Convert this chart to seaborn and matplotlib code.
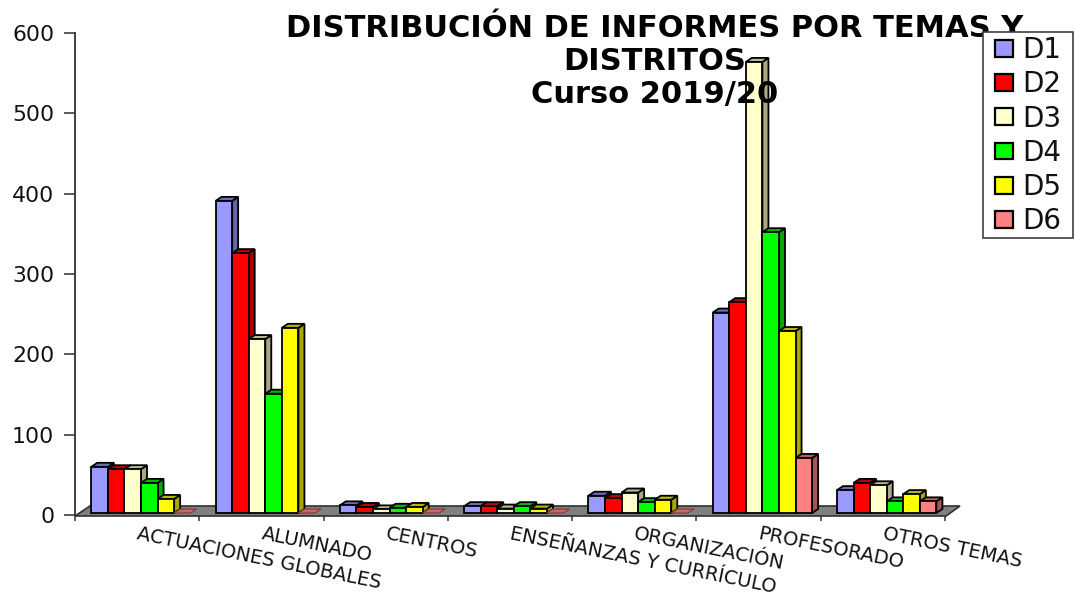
import matplotlib
matplotlib.use("Agg")
import matplotlib.pyplot as plt
import matplotlib.colors as mcolors
from matplotlib.patches import Polygon, Rectangle
import pandas as pd
import seaborn as sns

categories = ["ACTUACIONES GLOBALES", "ALUMNADO", "CENTROS",
              "ENSEÑANZAS Y CURRÍCULO", "ORGANIZACIÓN", "PROFESORADO", "OTROS TEMAS"]
d1 = [60, 391, 12, 11, 24, 252, 31]
d2 = [57, 326, 10, 11, 21, 265, 40]
d3 = [57, 219, 7, 8, 28, 564, 37]
d4 = [40, 151, 9, 11, 16, 352, 17]
d5 = [20, 233, 10, 8, 19, 229, 26]
d6 = [1, 1, 1, 1, 1, 71, 17]
series_names = ["D1", "D2", "D3", "D4", "D5", "D6"]
series_values = [d1, d2, d3, d4, d5, d6]
colors = ["#9999FF", "#FF0000", "#FFFFCC", "#00FF00", "#FFFF00", "#FF8080"]
y_ticks = [0, 100, 200, 300, 400, 500, 600]
title_lines = "DISTRIBUCIÓN DE INFORMES POR TEMAS Y\nDISTRITOS\nCurso 2019/20"

sns.set_theme(style="white")
plt.rcParams["font.family"] = ["DejaVu Sans"]

df = pd.DataFrame([
    {"tema": c, "distrito": n, "informes": vals[i]}
    for n, vals in zip(series_names, series_values)
    for i, c in enumerate(categories)
])

W, H = 1075, 596
fig = plt.figure(figsize=(W / 100, H / 100), dpi=100, facecolor="white")
ax = fig.add_axes([75 / W, 1 - 515 / H, 870 / W, 482 / H])
ax.patch.set_alpha(0)

sns.barplot(data=df, x="tema", y="informes", hue="distrito", order=categories,
            hue_order=series_names, palette=colors, width=0.8, gap=0,
            edgecolor="black", linewidth=1.3, saturation=1, ax=ax, legend=True)

left_off = 66 / (870 / 7)
ax.set_xlim(-left_off, 7 - left_off)
ax.set_ylim(0, 600)
ax.set_xlabel("")
ax.set_ylabel("")
for s in ("top", "right", "bottom"):
    ax.spines[s].set_visible(False)
ax.spines["left"].set_color("#303030")
ax.spines["left"].set_linewidth(1.3)

ax.set_yticks(y_ticks)
ax.set_yticklabels([str(v) for v in y_ticks], fontsize=15.8, color="#111111")
ax.tick_params(axis="y", length=8, width=1.1, color="#303030", pad=7, left=True)

ax.set_xticks([k - left_off for k in range(8)])
ax.set_xticklabels([""] * 8)
ax.tick_params(axis="x", which="major", length=4, width=1.1, color="#303030", bottom=True)
ax.set_xticks([k - 0.015 for k in range(7)], minor=True)
ax.set_xticklabels(categories, minor=True, fontsize=14, rotation=-11.5,
                   ha="left", va="top", rotation_mode="anchor", color="#111111")
ax.tick_params(axis="x", which="minor", length=0, pad=7)


def darker(c, f):
    r, g, b = mcolors.to_rgb(c)
    return (r * f, g * f, b * f)


to_px = ax.transData.transform
to_data = ax.transData.inverted().transform

x0, x1 = ax.get_xlim()
(p0x, p0y) = to_px((x0, 0))
(p1x, p1y) = to_px((x1, 0))
floor_pts = [(p0x, p0y - 1), (p1x + 1, p1y - 1), (p1x + 15, p1y + 9), (p0x + 15, p0y + 9)]
ax.add_patch(Polygon(to_data(floor_pts), closed=True, facecolor="#808080",
                     edgecolor="#303030", linewidth=1.2, zorder=1, clip_on=False))

bars = [p for p in ax.patches if hasattr(p, "get_width") and p.get_height() > 0 and p.get_width() > 0]
base_lift = 2 / (482 / 600)
DX, DY = 6, 4
order = sorted(bars, key=lambda p: p.get_x())
for z, bar in enumerate(order):
    color = bar.get_facecolor()
    x, w, h = bar.get_x(), bar.get_width(), bar.get_height()
    zbase = 3 + z * 0.01
    if h <= base_lift:
        # value close to zero: only a flat slab on the floor
        (xl, yb) = to_px((x, base_lift))
        (xr, _) = to_px((x + w, base_lift))
        cap = [(xl, yb), (xr, yb), (xr + DX, yb + DY), (xl + DX, yb + DY)]
        ax.add_patch(Polygon(to_data(cap), closed=True, facecolor=darker(color, 0.8),
                             edgecolor=darker(color, 0.5), linewidth=0.9, zorder=zbase,
                             clip_on=False))
        bar.set_visible(False)
        continue
    bar.set_y(base_lift)
    bar.set_height(h - base_lift)
    (xl, yb) = to_px((x, base_lift))
    (xr, yt) = to_px((x + w, h))
    side = [(xr, yb), (xr + DX, yb + DY), (xr + DX, yt + DY), (xr, yt)]
    cap = [(xl, yt), (xr, yt), (xr + DX, yt + DY), (xl + DX, yt + DY)]
    ax.add_patch(Polygon(to_data(side), closed=True, facecolor=darker(color, 0.66),
                         edgecolor="black", linewidth=1.3, zorder=zbase, clip_on=False))
    ax.add_patch(Polygon(to_data(cap), closed=True, facecolor=darker(color, 0.72),
                         edgecolor="black", linewidth=1.3, zorder=zbase + 0.001, clip_on=False))
    bar.set_zorder(zbase + 0.002)
    bar.set_clip_on(False)

ax.text(655 / W, 1 - 14 / H, title_lines, transform=fig.transFigure,
        ha="center", va="top", fontsize=22, fontweight="bold",
        color="black", linespacing=1.17, zorder=20, clip_on=False)

handles, labels = ax.get_legend_handles_labels()
leg = ax.legend(handles, labels, loc="upper left",
                bbox_to_anchor=(995 / W, 1 - 36 / H), bbox_transform=fig.transFigure,
                fontsize=20, frameon=False, handlelength=0.65,
                handleheight=0.55, handletextpad=0.33, labelspacing=0.226,
                borderpad=0, borderaxespad=0, title=None)
leg.set_zorder(30)
for t in leg.get_texts():
    t.set_color("#111111")
for hnd in leg.legend_handles:
    hnd.set_edgecolor("black")
    hnd.set_linewidth(1.6)
ax.add_patch(Rectangle((983 / W, 1 - 238 / H), 90 / W, 206 / H, transform=fig.transFigure,
                       facecolor="white", edgecolor="#404040", linewidth=1.2,
                       zorder=29, clip_on=False))

fig.savefig("out.png", dpi=100)
